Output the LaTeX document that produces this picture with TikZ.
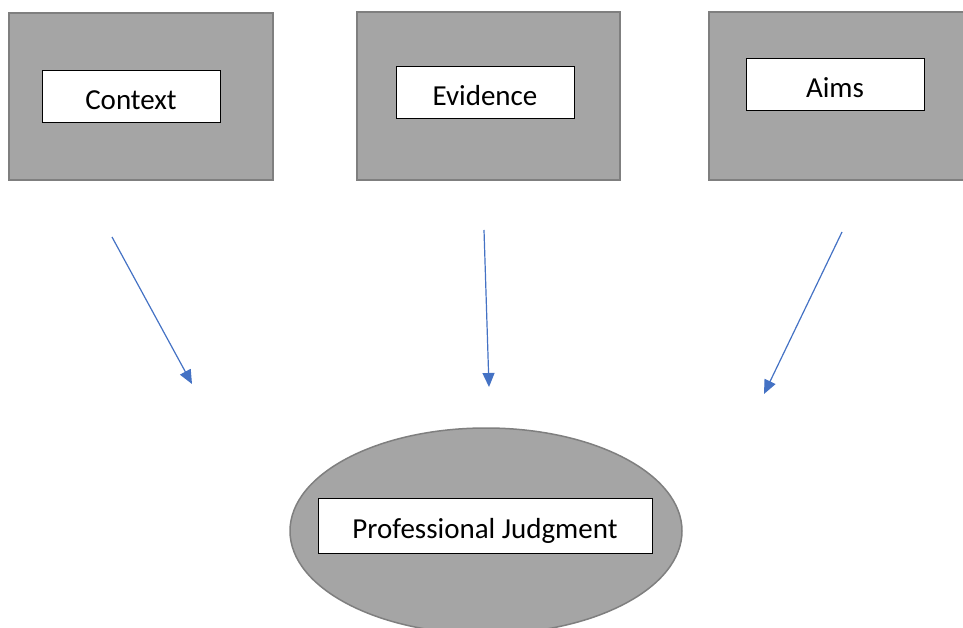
\documentclass[tikz,border=0pt]{standalone}
\usepackage{fontspec}
\setmainfont{Carlito}
\usetikzlibrary{shapes.geometric,arrows.meta}
\definecolor{boxgray}{HTML}{A5A5A5}
\definecolor{edgegray}{HTML}{7F7F7F}
\definecolor{arrowblue}{HTML}{4472C4}
\begin{document}
\begin{tikzpicture}[x=1pt,y=-1pt,
  outerbox/.style={draw=edgegray,line width=2pt,fill=boxgray,rectangle,inner sep=0pt},
  labelbox/.style={draw=black,line width=1pt,fill=white,rectangle,inner sep=0pt,
    text height=26pt,text depth=0pt,
    font=\fontsize{29}{34}\selectfont},
  oval/.style={draw=edgegray,line width=1.5pt,fill=boxgray,ellipse,inner sep=0pt},
  link/.style={draw=arrowblue,line width=1.2pt,-{Triangle[length=14pt,width=12pt]}}]
\useasboundingbox (0,0) rectangle (963,628);
\clip (0,0) rectangle (963,628);
% top boxes
\node[outerbox,minimum width=264pt,minimum height=167pt] (ctxbox) at (141,96.5) {};
\node[outerbox,minimum width=263pt,minimum height=168pt] (evbox) at (488.5,96) {};
\node[outerbox,minimum width=263pt,minimum height=168pt] (aimbox) at (840.5,96) {};
\node[labelbox,minimum width=178pt,minimum height=52pt] (ctx) at (131,97) {Context};
\node[labelbox,minimum width=178pt,minimum height=52pt] (ev) at (485,93) {Evidence};
\node[labelbox,minimum width=178pt,minimum height=52pt] (aim) at (835,85) {Aims};
% ellipse
\node[oval,minimum width=392pt,minimum height=206pt] (pjoval) at (486,531) {};
\node[labelbox,minimum width=334pt,minimum height=55pt] (pj) at (485,525.5) {Professional Judgment};
% arrows
\coordinate (a1s) at (112,237);
\coordinate (a1e) at (192,384);
\coordinate (a2s) at (484,230);
\coordinate (a2e) at (489,387);
\coordinate (a3s) at (842,232);
\coordinate (a3e) at (764,394);
\draw[link] (a1s) -- (a1e);
\draw[link] (a2s) -- (a2e);
\draw[link] (a3s) -- (a3e);
\end{tikzpicture}
\end{document}
